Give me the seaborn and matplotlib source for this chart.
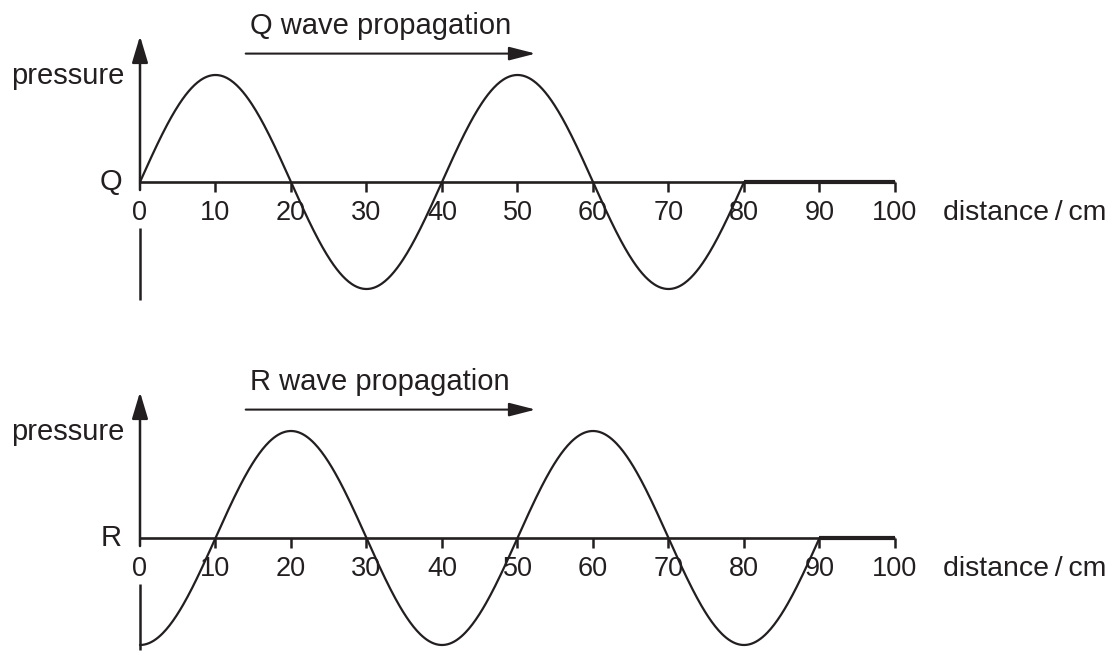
import numpy as np
import pandas as pd
import matplotlib
matplotlib.use("Agg")
import matplotlib.pyplot as plt
import seaborn as sns

# Datos
distance_ticks = [0, 10, 20, 30, 40, 50, 60, 70, 80, 90, 100]
panel_names = ["Q", "R"]
wavelength_cm = 40
amplitude = 1.0
wave_end_cm = [80, 90]          # donde termina la onda en cada panel
wave_phase_cm = [0, -10]        # Q empieza en cero subiendo, R empieza en valle
axis_end_cm = 100

sns.set_style("white")
plt.rcParams["font.family"] = ["Liberation Sans", "DejaVu Sans"]

ink = "#231f20"
fig = plt.figure(figsize=(11.1, 6.53), dpi=100)

px_per_cm = 7.55
x0_px = 140
xmin = -x0_px / px_per_cm
xmax = (1110 - x0_px) / px_per_cm
amp_px = 107

# (fila del eje en pixeles, borde superior del panel, borde inferior)
panels = [(182, 0, 326.5), (538, 326.5, 653)]
axis_low_px = [300, 650]
axis_tip_px = [36, 392]

for i, name in enumerate(panel_names):
    axis_row, top_row, bot_row = panels[i]
    ax = fig.add_axes([0, 1 - bot_row / 653, 1, (bot_row - top_row) / 653])
    ax.set_xlim(xmin, xmax)
    ax.set_ylim((axis_row - bot_row) / amp_px, (axis_row - top_row) / amp_px)
    ax.axis("off")

    # onda
    x = np.linspace(0, wave_end_cm[i], 600)
    y = amplitude * np.sin(2 * np.pi * (x + wave_phase_cm[i]) / wavelength_cm)
    df = pd.DataFrame({"distance": x, "pressure": y})
    sns.lineplot(data=df, x="distance", y="pressure", ax=ax, color=ink,
                 lw=1.6, legend=False, sort=False)

    # eje horizontal
    ax.plot([0, axis_end_cm], [0, 0], color=ink, lw=1.9, solid_capstyle="butt")
    ax.plot([wave_end_cm[i], axis_end_cm], [0, 0], color=ink, lw=3.0,
            solid_capstyle="butt")
    for t in distance_ticks[1:]:
        ax.plot([t, t], [0, -0.095], color=ink, lw=1.8, solid_capstyle="butt")
    for t in distance_ticks:
        ax.text(t, -0.29, str(t), ha="center", va="center", fontsize=19.5, color=ink)
    ax.text(106.3, -0.29, "distance\u2009/\u2009cm", ha="left", va="center",
            fontsize=20.5, color=ink)

    # eje vertical con flecha
    low = (axis_row - axis_low_px[i]) / amp_px
    tip = (axis_row - axis_tip_px[i]) / amp_px
    ax.annotate("", xy=(0, tip), xytext=(0, -0.075),
                arrowprops=dict(arrowstyle="-|>,head_length=0.9,head_width=0.27",
                                lw=1.8, color=ink, mutation_scale=18,
                                shrinkA=0, shrinkB=0))
    ax.plot([0, 0], [-0.43, low], color=ink, lw=1.8, solid_capstyle="butt")

    ax.text(-2.4, 0.0, name, ha="right", va="center", fontsize=21, color=ink)
    ax.text(-2.0, 0.995, "pressure", ha="right", va="center", fontsize=21, color=ink)

    # flecha de propagacion
    ax.annotate("", xy=(52.4, 1.2), xytext=(14, 1.2),
                arrowprops=dict(arrowstyle="-|>,head_length=0.9,head_width=0.23",
                                lw=1.5, color=ink, mutation_scale=18,
                                shrinkA=0, shrinkB=0))
    ax.text(14.6, 1.46, name + " wave propagation", ha="left", va="center",
            fontsize=21, color=ink)

fig.savefig("out.png", dpi=100, facecolor="white")
